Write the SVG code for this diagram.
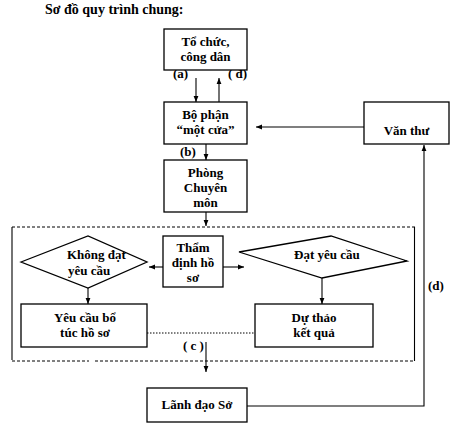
<svg xmlns="http://www.w3.org/2000/svg" width="457" height="436" viewBox="0 0 457 436">
<style>
text{font-family:"Liberation Serif","Times New Roman",serif;font-weight:bold;font-size:13px;fill:#000}
.c{text-anchor:middle}
.t{font-size:14px}
.box{fill:#fff;stroke:#000;stroke-width:1.3}
.ln{fill:none;stroke:#000;stroke-width:1.1}
.dash{fill:none;stroke:#000;stroke-width:1;stroke-dasharray:3,2}
.dot{fill:none;stroke:#000;stroke-width:1;stroke-dasharray:1.5,1.5}
</style>
<defs>
<marker id="ah" viewBox="0 0 10 10" refX="10" refY="5" markerWidth="6" markerHeight="6" orient="auto-start-reverse" markerUnits="userSpaceOnUse">
<path d="M0,1 L10,5 L0,9 z" fill="#000"/>
</marker>
</defs>
<rect width="457" height="436" fill="#fff"/>
<text class="t" x="45" y="14">Sơ đồ quy trình chung:</text>

<g id="frame">
<path class="dash" d="M12,227 H415"/>
<path class="dash" d="M12,361 H89 M95,361 H415"/>
<path class="ln" d="M12,227 V360"/>
<path class="ln" d="M414.5,227 V361"/>
</g>

<g id="connectors">
<path class="ln" d="M196,78 V102" marker-end="url(#ah)"/>
<path class="ln" d="M219,102 V78" marker-end="url(#ah)"/>
<path class="ln" d="M364,127 H256" marker-end="url(#ah)"/>
<path class="ln" d="M206,144 V160" marker-end="url(#ah)"/>
<path class="ln" d="M206,212 V226" marker-end="url(#ah)"/>
<path class="ln" d="M163,267 H149" marker-end="url(#ah)"/>
<path class="ln" d="M223,267 H244" marker-end="url(#ah)"/>
<path class="ln" d="M88,288 V304" marker-end="url(#ah)"/>
<path class="ln" d="M322,278 V304" marker-end="url(#ah)"/>
<path class="dot" d="M147,333 H255"/>
<path class="ln" d="M206,342 V372" marker-end="url(#ah)"/>
<path class="ln" d="M247,406 H424 V145" marker-end="url(#ah)"/>
<text x="173" y="78">(a)</text>
<text x="228" y="78">( đ)</text>
<text x="180" y="156">(b)</text>
<text x="183" y="350">( c )</text>
<text x="428" y="290">(d)</text>
</g>

<g id="to-chuc">
<rect class="box" x="164" y="29" width="83" height="41"/>
<text class="c" x="205.5" y="46">Tổ chức,</text>
<text class="c" x="205.5" y="61">công dân</text>
</g>

<g id="mot-cua">
<rect class="box" x="164" y="102" width="83" height="42"/>
<text class="c" x="205.5" y="119">Bộ phận</text>
<text class="c" x="205.5" y="134">“một cửa”</text>
</g>

<g id="van-thu">
<rect class="box" x="364" y="102" width="85" height="42"/>
<text class="c" x="406.5" y="135">Văn thư</text>
</g>

<g id="phong-cm">
<rect class="box" x="164" y="160" width="83" height="52"/>
<text class="c" x="205.5" y="177">Phòng</text>
<text class="c" x="205.5" y="192">Chuyên</text>
<text class="c" x="205.5" y="207">môn</text>
</g>

<g id="tham-dinh">
<rect class="box" x="163" y="236" width="60" height="51"/>
<text class="c" x="193" y="252">Thẩm</text>
<text class="c" x="193" y="267">định hồ</text>
<text class="c" x="193" y="282">sơ</text>
</g>

<g id="khong-dat">
<polygon class="box" points="21,262 88,236 147,262 88,288"/>
<text x="67" y="259">Không đạt</text>
<text x="68" y="275">yêu cầu</text>
</g>

<g id="dat">
<polygon class="box" points="239,252 331,236 407,261 322,278"/>
<text x="294" y="259">Đạt yêu cầu</text>
</g>

<g id="yeu-cau-bo">
<rect class="box" x="21" y="304" width="126" height="43"/>
<text class="c" x="85" y="322">Yêu cầu bổ</text>
<text class="c" x="85" y="337">túc hồ sơ</text>
</g>

<g id="du-thao">
<rect class="box" x="255" y="304" width="118" height="43"/>
<text class="c" x="314" y="322">Dự thảo</text>
<text class="c" x="314" y="337">kết quả</text>
</g>

<g id="lanh-dao">
<rect class="box" x="147" y="388" width="100" height="34"/>
<text class="c" x="197" y="409">Lãnh đạo Sở</text>
</g>
</svg>
